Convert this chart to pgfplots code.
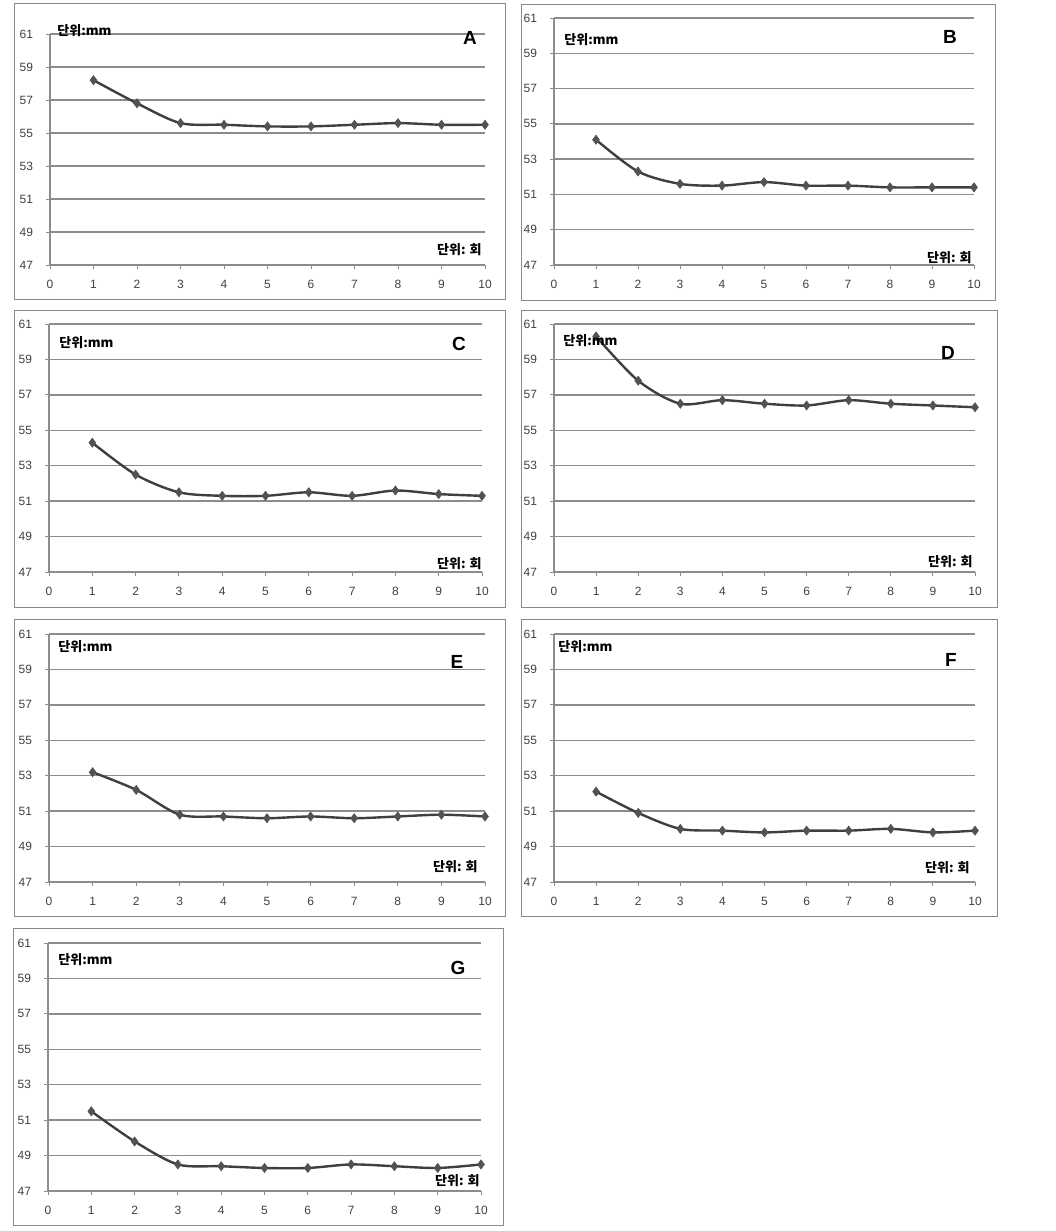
\documentclass[border=0pt]{standalone}
\usepackage{pgfplots}
\pgfplotsset{compat=1.18}
\usepackage{fontspec}
\setmainfont{Liberation Sans}
\newfontfamily\kr{Noto Sans CJK KR}

\definecolor{gridc}{HTML}{8C8C8C}
\definecolor{linec}{HTML}{3F3F3F}
\definecolor{framec}{HTML}{8A8A8A}

\pgfplotsset{
  panel/.style={
    scale only axis, anchor=south west,
    xmin=0, xmax=10, ymin=47, ymax=61,
    xtick={0,...,10}, ytick={47,49,...,61},
    axis lines=left, axis line style={gridc, line width=0.6pt, -},
    ymajorgrids, grid style={gridc, line width=0.7pt},
    tick style={gridc, line width=0.5pt}, major tick length=2pt, tick align=outside,
    ticklabel style={font=\fontsize{6}{7}\selectfont, text=black!75},
    /pgf/number format/assume math mode=true,
    xticklabel style={yshift=-2.2pt},
    yticklabel style={xshift=-3pt},
    clip=false,
  },
  series/.style={linec, line width=1.2pt, smooth, tension=0.5,
    mark=diamond*, mark size=2.2pt,
    mark options={fill=linec!90, draw=linec!90, line width=0.4pt}},
}
\tikzset{
  px/.style={x=0.5pt, y=-0.5pt},
  mm/.style={anchor=west, inner sep=0pt, font=\kr\bfseries\fontsize{6.5}{7}\selectfont},
  hoe/.style={anchor=east, inner sep=0pt, font=\kr\bfseries\fontsize{6.5}{7}\selectfont},
  letter/.style={inner sep=0pt, font=\bfseries\fontsize{9.5}{10}\selectfont},
}

\begin{document}
\begin{tikzpicture}
\begin{scope}[px]
\path[use as bounding box] (0,0) rectangle (1055,1231);
% frames
\draw[framec, line width=0.5pt] (14,3) rectangle (505,299);
\draw[framec, line width=0.5pt] (521,4) rectangle (995,300);
\draw[framec, line width=0.5pt] (14,310) rectangle (505,607);
\draw[framec, line width=0.5pt] (521,310) rectangle (997,607);
\draw[framec, line width=0.5pt] (14,619) rectangle (505,916);
\draw[framec, line width=0.5pt] (521,619) rectangle (997,916);
\draw[framec, line width=0.5pt] (13,928) rectangle (503,1225);
\end{scope}

% A
\begin{axis}[panel, at={(25pt,-132.5pt)}, width=217.5pt, height=115.5pt]
\addplot[series] coordinates {(1,58.2) (2,56.8) (3,55.6) (4,55.5) (5,55.4) (6,55.4) (7,55.5) (8,55.6) (9,55.5) (10,55.5)};
\end{axis}
% B
\begin{axis}[panel, at={(277pt,-132.5pt)}, width=210pt, height=123.5pt]
\addplot[series] coordinates {(1,54.1) (2,52.3) (3,51.6) (4,51.5) (5,51.7) (6,51.5) (7,51.5) (8,51.4) (9,51.4) (10,51.4)};
\end{axis}
% C
\begin{axis}[panel, at={(24.5pt,-286pt)}, width=216.5pt, height=124pt]
\addplot[series] coordinates {(1,54.3) (2,52.5) (3,51.5) (4,51.3) (5,51.3) (6,51.5) (7,51.3) (8,51.6) (9,51.4) (10,51.3)};
\end{axis}
% D
\begin{axis}[panel, at={(277pt,-286pt)}, width=210.5pt, height=124pt]
\addplot[series] coordinates {(1,60.3) (2,57.8) (3,56.5) (4,56.7) (5,56.5) (6,56.4) (7,56.7) (8,56.5) (9,56.4) (10,56.3)};
\end{axis}
% E
\begin{axis}[panel, at={(24.5pt,-441pt)}, width=218pt, height=124pt]
\addplot[series] coordinates {(1,53.2) (2,52.2) (3,50.8) (4,50.7) (5,50.6) (6,50.7) (7,50.6) (8,50.7) (9,50.8) (10,50.7)};
\end{axis}
% F
\begin{axis}[panel, at={(277pt,-441pt)}, width=210.5pt, height=124pt]
\addplot[series] coordinates {(1,52.1) (2,50.9) (3,50.0) (4,49.9) (5,49.8) (6,49.9) (7,49.9) (8,50.0) (9,49.8) (10,49.9)};
\end{axis}
% G
\begin{axis}[panel, at={(24pt,-595.5pt)}, width=216.5pt, height=124pt]
\addplot[series] coordinates {(1,51.5) (2,49.8) (3,48.5) (4,48.4) (5,48.3) (6,48.3) (7,48.5) (8,48.4) (9,48.3) (10,48.5)};
\end{axis}

% labels
\begin{scope}[px]
\node[mm] at (57,31) {단위:mm};   \node[letter] at (470,38) {A};  \node[hoe] at (482,250) {단위: 회};
\node[mm] at (564,40) {단위:mm};  \node[letter] at (950,37) {B};  \node[hoe] at (972,258) {단위: 회};
\node[mm] at (59,343) {단위:mm};  \node[letter] at (459,344) {C}; \node[hoe] at (482,564) {단위: 회};
\node[mm] at (563,341) {단위:mm}; \node[letter] at (948,353) {D}; \node[hoe] at (973,562) {단위: 회};
\node[mm] at (58,647) {단위:mm};  \node[letter] at (457,662) {E}; \node[hoe] at (478,867) {단위: 회};
\node[mm] at (558,647) {단위:mm}; \node[letter] at (951,660) {F}; \node[hoe] at (970,868) {단위: 회};
\node[mm] at (58,960) {단위:mm};  \node[letter] at (458,968) {G}; \node[hoe] at (480,1181) {단위: 회};
\end{scope}
\end{tikzpicture}
\end{document}
